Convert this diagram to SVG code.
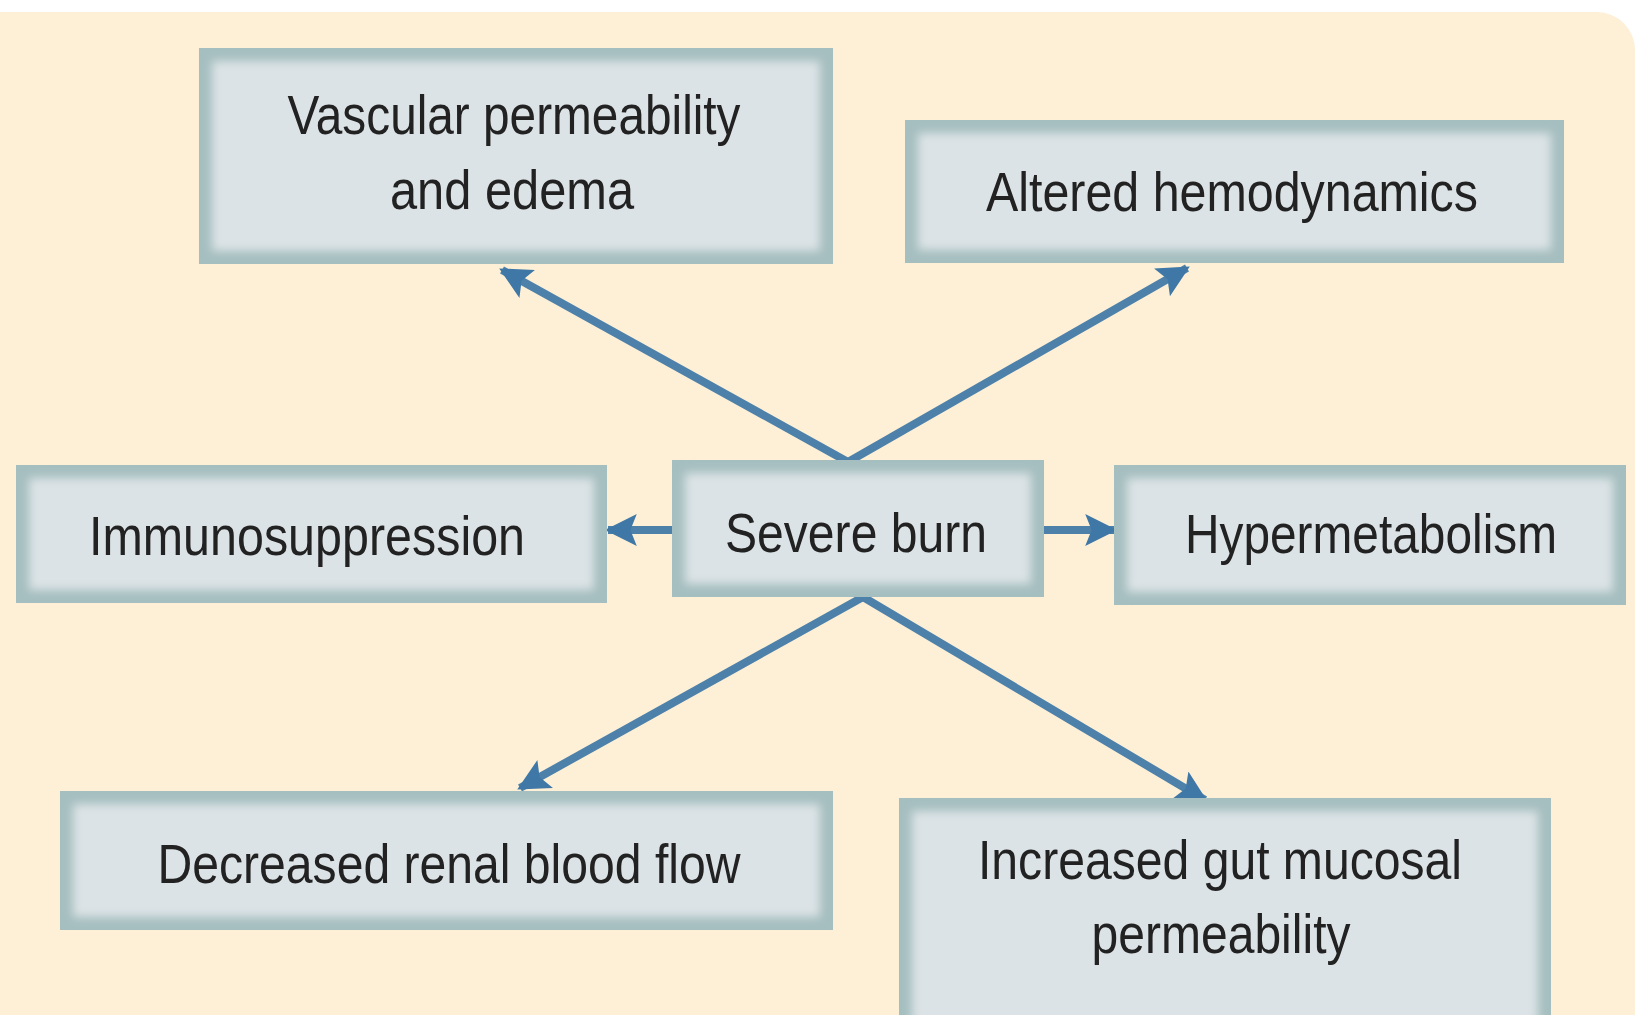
<svg xmlns="http://www.w3.org/2000/svg" width="1647" height="1015" viewBox="0 0 1647 1015">
<style>
.frame{fill:#A5BEBF}
.face{fill:#DCE3E6;filter:url(#soft)}
.lbl{font-family:"Liberation Sans",Arial,sans-serif;font-size:55px;fill:#222;text-anchor:middle}
.con{stroke:#4D81AA;stroke-width:8;fill:none;marker-end:url(#ah)}
</style>
<defs>
<filter id="soft" x="-5%" y="-10%" width="110%" height="120%"><feGaussianBlur stdDeviation="5"/></filter>
<marker id="ah" viewBox="0 0 10 10" refX="9" refY="5" markerWidth="4.8" markerHeight="4" orient="auto" markerUnits="strokeWidth">
<path d="M0,0 L10,5 L0,10 L2,5 Z" fill="#3F78A6"/>
</marker>
</defs>
<rect x="0" y="0" width="1647" height="1015" fill="#FFFFFF"/>
<rect x="-40" y="12" width="1675" height="1060" rx="38" fill="#FEF0D7"/>
<g id="connectors">
<line class="con" x1="848" y1="462" x2="502" y2="270"/>
<line class="con" x1="848" y1="462" x2="1187" y2="268"/>
<line class="con" x1="672" y1="530" x2="608" y2="530"/>
<line class="con" x1="1043" y1="530" x2="1114" y2="530"/>
<line class="con" x1="863" y1="597" x2="520" y2="788"/>
<line class="con" x1="863" y1="597" x2="1205" y2="800"/>
</g>
<g id="vascular">
<rect class="frame" x="199" y="48" width="634" height="216"/>
<rect class="face" x="212" y="61" width="608" height="190"/>
<text class="lbl" x="514" y="134" textLength="453" lengthAdjust="spacingAndGlyphs">Vascular permeability</text>
<text class="lbl" x="512" y="209" textLength="244" lengthAdjust="spacingAndGlyphs">and edema</text>
</g>
<g id="altered">
<rect class="frame" x="905" y="120" width="659" height="143"/>
<rect class="face" x="918" y="133" width="633" height="117"/>
<text class="lbl" x="1232" y="211" textLength="492" lengthAdjust="spacingAndGlyphs">Altered hemodynamics</text>
</g>
<g id="immuno">
<rect class="frame" x="16" y="465" width="591" height="138"/>
<rect class="face" x="29" y="478" width="565" height="112"/>
<text class="lbl" x="307" y="555" textLength="436" lengthAdjust="spacingAndGlyphs">Immunosuppression</text>
</g>
<g id="severe">
<rect class="frame" x="672" y="460" width="372" height="137"/>
<rect class="face" x="685" y="473" width="346" height="111"/>
<text class="lbl" x="856" y="552" textLength="262" lengthAdjust="spacingAndGlyphs">Severe burn</text>
</g>
<g id="hyper">
<rect class="frame" x="1114" y="465" width="512" height="140"/>
<rect class="face" x="1127" y="478" width="486" height="114"/>
<text class="lbl" x="1371" y="553" textLength="372" lengthAdjust="spacingAndGlyphs">Hypermetabolism</text>
</g>
<g id="renal">
<rect class="frame" x="60" y="791" width="773" height="139"/>
<rect class="face" x="73" y="804" width="747" height="113"/>
<text class="lbl" x="449" y="883" textLength="583" lengthAdjust="spacingAndGlyphs">Decreased renal blood flow</text>
</g>
<g id="gut">
<rect class="frame" x="899" y="798" width="652" height="240"/>
<rect class="face" x="912" y="811" width="626" height="214"/>
<text class="lbl" x="1220" y="879" textLength="484" lengthAdjust="spacingAndGlyphs">Increased gut mucosal</text>
<text class="lbl" x="1221" y="953" textLength="259" lengthAdjust="spacingAndGlyphs">permeability</text>
</g>
</svg>
